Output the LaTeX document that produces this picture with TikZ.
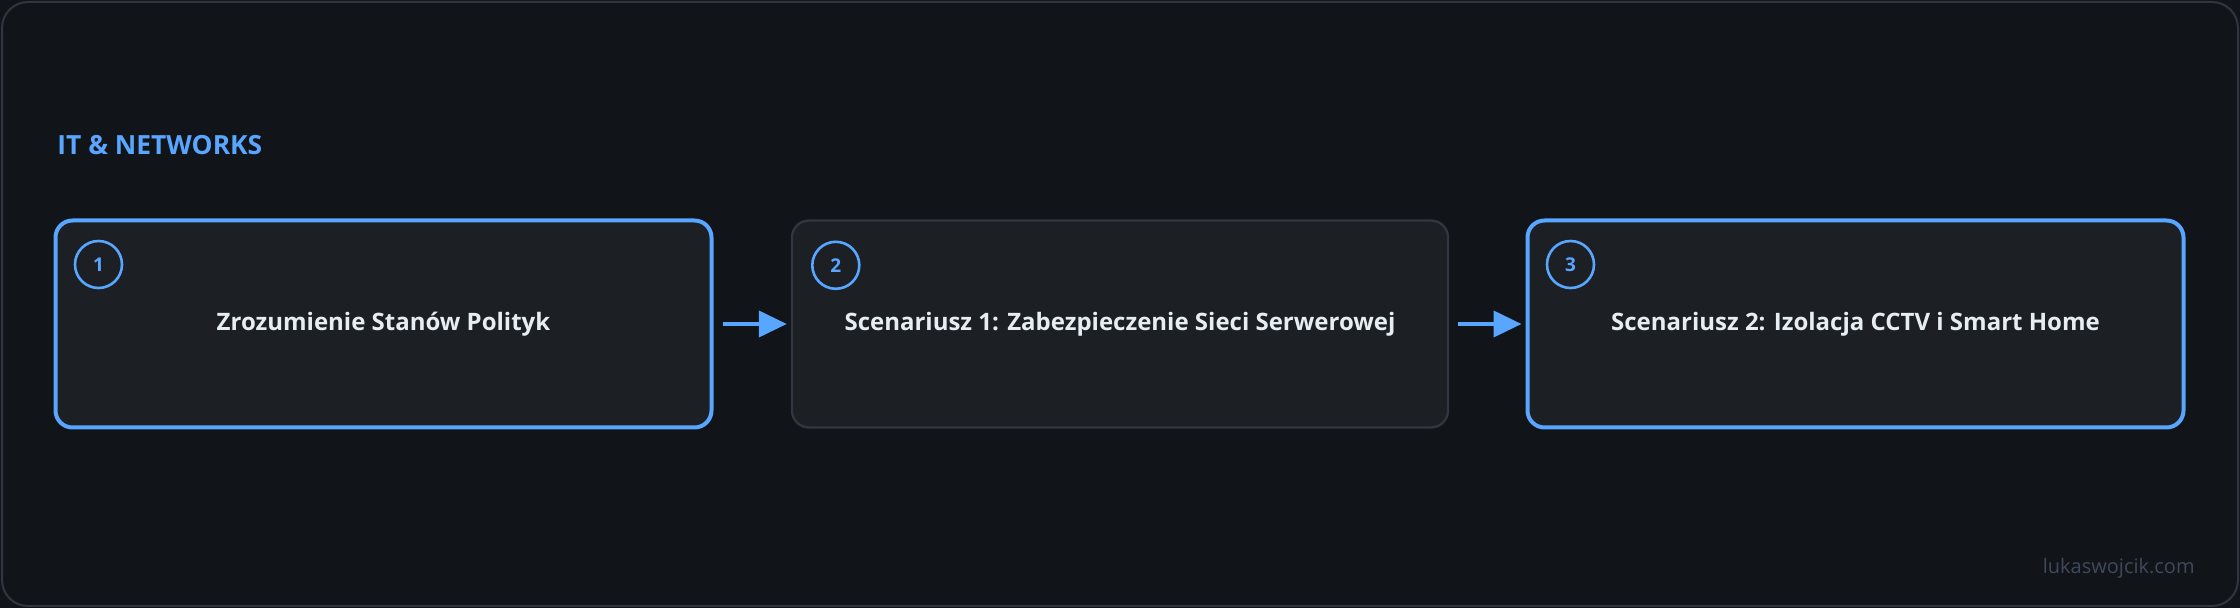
\documentclass[tikz,border=0pt]{standalone}
\usepackage{fontspec}
\setmainfont{Open Sans}
\usetikzlibrary{calc,positioning,arrows.meta}

\definecolor{bgdark}{RGB}{17,20,24}
\definecolor{boxfill}{RGB}{28,32,36}
\definecolor{accent}{RGB}{88,166,255}
\definecolor{edgegrey}{RGB}{48,54,64}
\definecolor{textlight}{RGB}{230,237,243}
\definecolor{markgrey}{RGB}{62,74,92}

\tikzset{
	stage/.style={draw=accent, line width=2pt, fill=boxfill, rounded corners=8.5pt,
		minimum width=328pt, minimum height=103.5pt, text=textlight,
		font=\bfseries\fontsize{12}{14}\selectfont},
	stagedim/.style={stage, draw=edgegrey, line width=1.2pt},
	badge/.style={circle, draw=accent, line width=1.3pt, minimum size=23.5pt, inner sep=0pt,
		text=accent, font=\bfseries\fontsize{9.5}{11}\selectfont},
	flow/.style={-{Triangle[length=14pt,width=13pt]}, draw=accent, line width=2pt,
		shorten <=4.5pt, shorten >=2pt}
}

\begin{document}
\begin{tikzpicture}[x=0.5pt,y=-0.5pt]
	%%%%% START %%%%%
	
	\useasboundingbox (0, 0) rectangle (2240, 608);
	\fill[bgdark] (0, 0) rectangle (2240, 608);
	\draw[edgegrey, line width=1pt, rounded corners=13pt] (2, 2) rectangle (2238, 606);
	
	\node[anchor=base west, inner sep=0pt, text=accent, font=\bfseries\fontsize{13.2}{16}\selectfont] (title) at (57, 155) {IT \& NETWORKS};
	
	\node[stage] (s1) at (383.5, 324) {Zrozumienie Stanów Polityk};
	\node[stagedim] (s2) at (1120, 324) {Scenariusz 1: Zabezpieczenie Sieci Serwerowej};
	\node[stage] (s3) at (1855.5, 324) {Scenariusz 2: Izolacja CCTV i Smart Home};
	
	\node[badge] (n1) at ($(s1.north west)+(45, 46)$) {1};
	\node[badge] (n2) at ($(s2.north west)+(45, 46)$) {2};
	\node[badge] (n3) at ($(s3.north west)+(45, 46)$) {3};
	
	\draw[flow] (s1) -- (s2);
	\draw[flow] (s2) -- (s3);
	
	\node[anchor=base east, inner sep=0pt, text=markgrey, font=\fontsize{10}{12}\selectfont] (mark) at (2195, 574) {lukaswojcik.com};
	
	%%%%% END %%%%%
\end{tikzpicture}
\end{document}
